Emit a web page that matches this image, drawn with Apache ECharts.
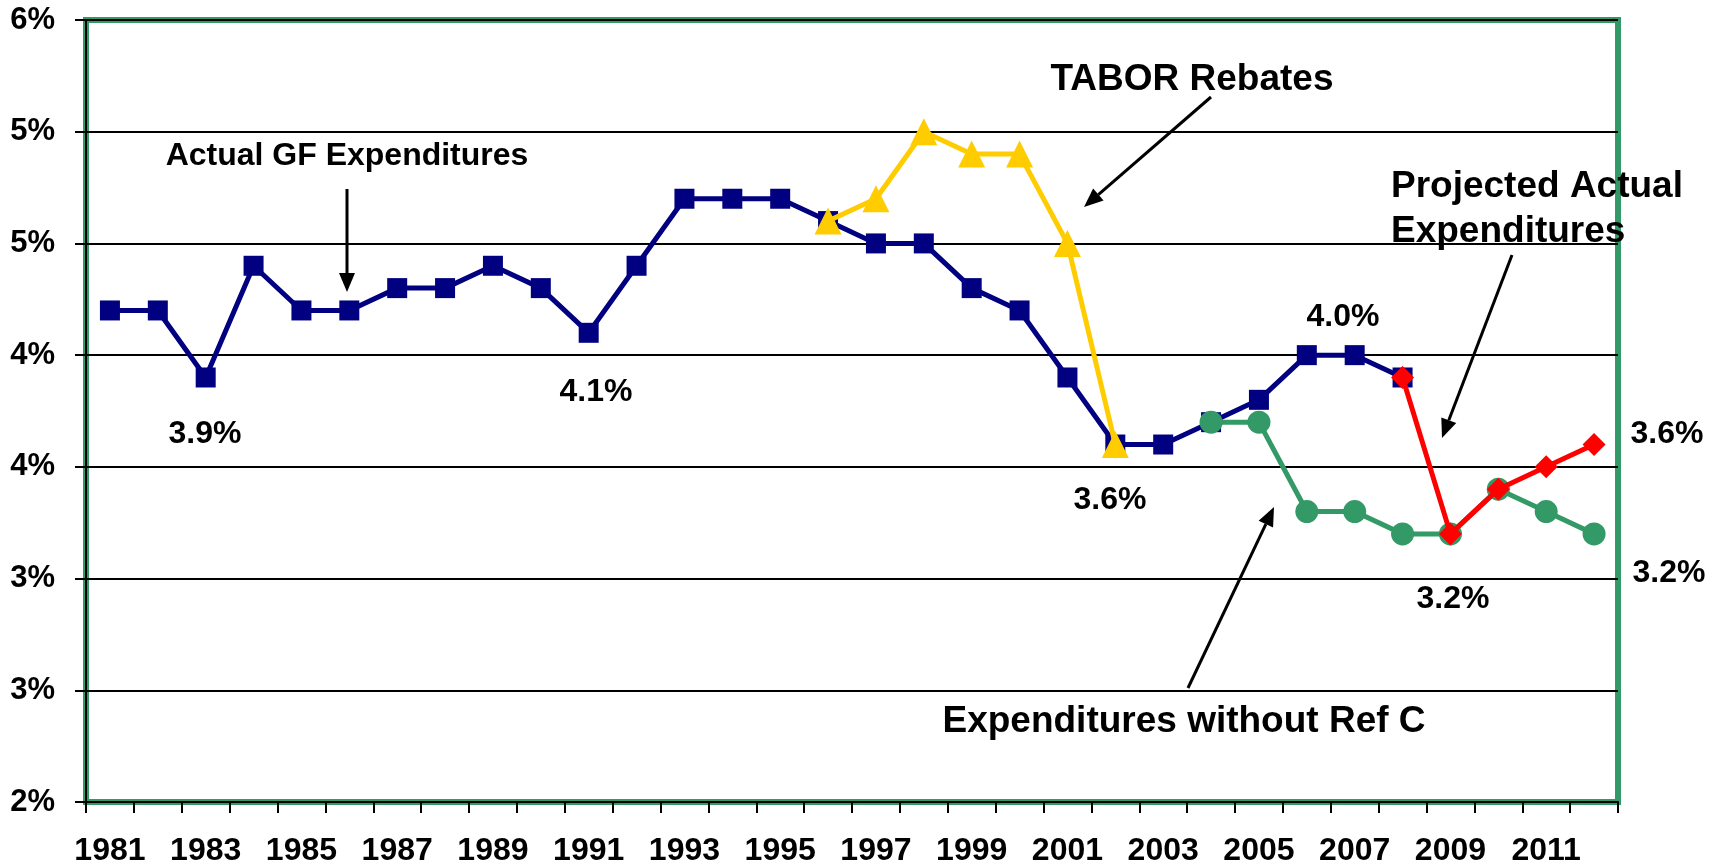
<!DOCTYPE html>
<html>
<head>
<meta charset="utf-8">
<script src="https://cdn.jsdelivr.net/npm/echarts@6/dist/echarts.min.js"></script>
<style>
  html, body { margin: 0; padding: 0; background: #fff; }
  #chart { width: 1721px; height: 867px; }
</style>
</head>
<body>
<div id="chart"></div>
<script>
const years = ['1981','1982','1983','1984','1985','1986','1987','1988','1989','1990',
  '1991','1992','1993','1994','1995','1996','1997','1998','1999','2000',
  '2001','2002','2003','2004','2005','2006','2007','2008','2009','2010','2011','2012'];

const actualGF = [4.2,4.2,3.9,4.4,4.2,4.2,4.3,4.3,4.4,4.3,
  4.1,4.4,4.7,4.7,4.7,4.6,4.5,4.5,4.3,4.2,
  3.9,3.6,3.6,3.7,3.8,4.0,4.0,3.9,null,null,null,null];

const taborRebates = [null,null,null,null,null,null,null,null,null,null,
  null,null,null,null,null,4.6,4.7,5.0,4.9,4.9,
  4.5,3.6,null,null,null,null,null,null,null,null,null,null];

const withoutRefC = [null,null,null,null,null,null,null,null,null,null,
  null,null,null,null,null,null,null,null,null,null,
  null,null,null,3.7,3.7,3.3,3.3,3.2,3.2,3.4,3.3,3.2];

const projectedActual = [null,null,null,null,null,null,null,null,null,null,
  null,null,null,null,null,null,null,null,null,null,
  null,null,null,null,null,null,null,3.9,3.2,3.4,3.5,3.6];

const yMin = 2, yMax = 5.5, yStep = 0.5;

const FONT = 'Arial, "Liberation Sans", sans-serif';

function txt(text, x, y, size, align) {
  return {
    type: 'text', x: x, y: y, z: 100,
    style: {
      text: text, fill: '#000',
      font: 'bold ' + size + 'px ' + FONT,
      textAlign: align || 'center', textVerticalAlign: 'middle'
    }
  };
}
function arrow(x1, y1, x2, y2) {
  const dx = x2 - x1, dy = y2 - y1, L = Math.hypot(dx, dy);
  const ux = dx / L, uy = dy / L, hl = 19, hw = 8;
  const bx = x2 - ux * hl, by = y2 - uy * hl;
  return [
    { type: 'line', z: 100, shape: { x1: x1, y1: y1, x2: bx, y2: by }, style: { stroke: '#000', lineWidth: 3 } },
    { type: 'polygon', z: 100, shape: { points: [[x2, y2], [bx - uy * hw, by + ux * hw], [bx + uy * hw, by - ux * hw]] }, style: { fill: '#000' } }
  ];
}

const chart = echarts.init(document.getElementById('chart'), null, { renderer: 'canvas' });

const option = {
  backgroundColor: '#fff',
  animation: false,
  grid: {
    left: 86, right: 103, top: 20, bottom: 65,
    show: true, borderColor: '#339966', borderWidth: 6, backgroundColor: 'transparent'
  },
  xAxis: {
    type: 'category',
    data: years,
    boundaryGap: true,
    axisLine: { show: true, lineStyle: { color: '#000', width: 2 } },
    axisTick: { show: true, interval: 0, length: 11, lineStyle: { color: '#000', width: 2 } },
    axisLabel: {
      interval: 1, margin: 33, color: '#000',
      fontFamily: FONT, fontWeight: 'bold', fontSize: 32
    },
    splitLine: { show: false }
  },
  yAxis: {
    type: 'value',
    min: yMin, max: yMax, interval: yStep,
    axisLine: { show: true, lineStyle: { color: '#000', width: 2 } },
    axisTick: { show: true, length: 11, lineStyle: { color: '#000', width: 2 } },
    axisLabel: {
      margin: 31, color: '#000',
      fontFamily: FONT, fontWeight: 'bold', fontSize: 31,
      formatter: function (v) { return Math.round(v) + '%'; }
    },
    splitLine: { show: true, lineStyle: { color: '#000', width: 2 } }
  },
  series: [
    {
      name: 'Actual GF Expenditures', type: 'line', data: actualGF,
      symbol: 'rect', symbolSize: 20, z: 2,
      lineStyle: { color: '#000080', width: 5 },
      itemStyle: { color: '#000080' }
    },
    {
      name: 'TABOR Rebates', type: 'line', data: taborRebates,
      symbol: 'triangle', symbolSize: 27, z: 3,
      lineStyle: { color: '#FFCC00', width: 5 },
      itemStyle: { color: '#FFCC00' }
    },
    {
      name: 'Expenditures without Ref C', type: 'line', data: withoutRefC,
      symbol: 'circle', symbolSize: 23, z: 4,
      lineStyle: { color: '#339966', width: 5 },
      itemStyle: { color: '#339966' }
    },
    {
      name: 'Projected Actual Expenditures', type: 'line', data: projectedActual,
      symbol: 'diamond', symbolSize: 23, z: 5,
      lineStyle: { color: '#FF0000', width: 5 },
      itemStyle: { color: '#FF0000' }
    }
  ],
  graphic: [].concat(
    [
      txt('Actual GF Expenditures', 347, 156, 32),
      txt('TABOR Rebates', 1192, 80, 37),
      txt('Projected Actual', 1391, 187, 37, 'left'),
      txt('Expenditures', 1391, 232, 37, 'left'),
      txt('Expenditures without Ref C', 1184, 722, 37),
      txt('3.9%', 205, 434, 32),
      txt('4.1%', 596, 392, 32),
      txt('3.6%', 1110, 500, 32),
      txt('4.0%', 1343, 317, 32),
      txt('3.2%', 1453, 599, 32),
      txt('3.6%', 1667, 434, 32),
      txt('3.2%', 1669, 573, 32)
    ],
    arrow(347, 189, 347, 292),
    arrow(1211, 97, 1084, 207),
    arrow(1512, 255, 1442, 438),
    arrow(1188, 688, 1274, 507)
  )
};

chart.setOption(option);
</script>
</body>
</html>
